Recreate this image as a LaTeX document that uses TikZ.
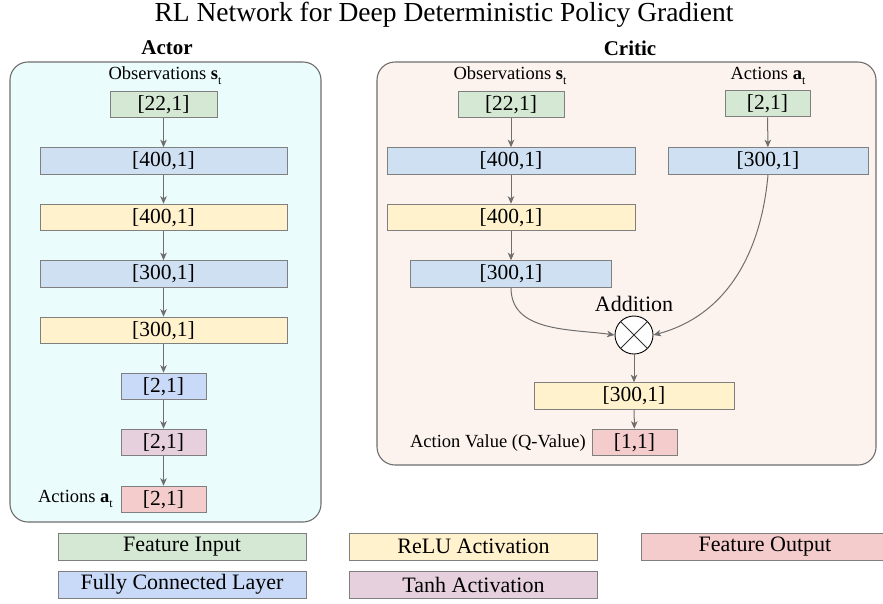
\documentclass[tikz,border=0pt]{standalone}
\usepackage{fontspec}
\setmainfont{Liberation Serif}
\usetikzlibrary{arrows.meta}
\definecolor{lineg}{HTML}{6E6E6E}
\definecolor{boxb}{HTML}{7F7F7F}
\definecolor{fgreen}{HTML}{D5E8D4}
\definecolor{fblue}{HTML}{CFE0F2}
\definecolor{fblueb}{HTML}{C9DAF8}
\definecolor{fyellow}{HTML}{FFF2CC}
\definecolor{fpink}{HTML}{E6D0DE}
\definecolor{fred}{HTML}{F4CCCC}
\definecolor{actorbg}{HTML}{EBFCFD}
\definecolor{criticbg}{HTML}{FDF3EE}
\newcommand{\fs}[1]{\fontsize{#1}{#1}\selectfont}
\newcommand{\subt}{\raisebox{-5pt}{\fs{12}t}}
\tikzset{
  layer/.style={draw=boxb, line width=1pt, inner sep=0pt, minimum height=26.5pt, font=\fs{21.5}},
  legbox/.style={draw=boxb, line width=1pt, inner sep=0pt, minimum width=248pt, minimum height=27pt, font=\fs{22}},
  panel/.style={draw=lineg, line width=1.1pt, rounded corners=18pt},
  conn/.style={draw=lineg, line width=1pt, -{Stealth[length=7.5pt,width=6.5pt,inset=2pt]}},
  lbl/.style={inner sep=0pt, font=\fs{18.5}},
}
\begin{document}
\begin{tikzpicture}[x=1pt,y=-1pt]
\clip (0,0) rectangle (883,603);
\fill[white] (0,0) rectangle (883,603);
% title
\node[inner sep=0pt, font=\fs{27.5}] (title) at (444,15) {RL Network for Deep Deterministic Policy Gradient};
% panels
\path[panel, fill=actorbg] (10,62) rectangle (321,522);
\path[panel, fill=criticbg] (377,62) rectangle (876,465);
\node[inner sep=0pt, font=\fs{21}\bfseries] (actort) at (167,48) {Actor};
\node[inner sep=0pt, font=\fs{21}\bfseries] (critict) at (630,48) {Critic};
% actor
\node[layer, fill=fgreen, minimum width=107pt] (a0) at (163.5,104.5) {[22,1]};
\node[layer, fill=fblue, minimum width=247pt] (a1) at (163.5,161) {[400,1]};
\node[layer, fill=fyellow, minimum width=247pt] (a2) at (163.5,217.5) {[400,1]};
\node[layer, fill=fblue, minimum width=247pt] (a3) at (163.5,274) {[300,1]};
\node[layer, fill=fyellow, minimum width=247pt] (a4) at (163.5,330.5) {[300,1]};
\node[layer, fill=fblueb, minimum width=85pt] (a5) at (163.5,386.5) {[2,1]};
\node[layer, fill=fpink, minimum width=85pt] (a6) at (163.5,442.5) {[2,1]};
\node[layer, fill=fred, minimum width=85pt] (a7) at (163.5,499.5) {[2,1]};
\node[lbl] (aobs) at (165,76) {Observations \textbf{s}\subt};
\node[lbl, anchor=east] (aact) at (113,499) {Actions \textbf{a}\subt};
\draw[conn] (a0) -- (a1);
\draw[conn] (a1) -- (a2);
\draw[conn] (a2) -- (a3);
\draw[conn] (a3) -- (a4);
\draw[conn] (a4) -- (a5);
\draw[conn] (a5) -- (a6);
\draw[conn] (a6) -- (a7);
% critic
\node[layer, fill=fgreen, minimum width=106pt] (c0) at (511,104.5) {[22,1]};
\node[layer, fill=fblue, minimum width=248pt] (c1) at (511,161) {[400,1]};
\node[layer, fill=fyellow, minimum width=248pt] (c2) at (511,217.5) {[400,1]};
\node[layer, fill=fblue, minimum width=201pt] (c3) at (511,274) {[300,1]};
\node[layer, fill=fgreen, minimum width=85pt] (d0) at (767.5,103.5) {[2,1]};
\node[layer, fill=fblue, minimum width=200pt] (d1) at (768,161) {[300,1]};
\node[draw=black, line width=0.9pt, fill=white, circle, minimum size=38pt, inner sep=0pt] (plus) at (634,335) {};
\draw[line width=0.8pt, draw=black!80] (plus.north east) -- (plus.south west) (plus.north west) -- (plus.south east);
\node[inner sep=0pt, font=\fs{22}] (addl) at (634,304) {Addition};
\node[layer, fill=fyellow, minimum width=200pt] (c4) at (634,396) {[300,1]};
\node[layer, fill=fred, minimum width=85pt] (c5) at (634.5,442.5) {[1,1]};
\node[lbl] (cobs) at (510,76) {Observations \textbf{s}\subt};
\node[lbl] (cact) at (768,76) {Actions \textbf{a}\subt};
\node[lbl, anchor=east] (qv) at (586,443) {Action Value (Q-Value)};
\draw[conn] (c0) -- (c1);
\draw[conn] (c1) -- (c2);
\draw[conn] (c2) -- (c3);
\draw[conn] (d0) -- (d1);
\draw[conn] (c3.south) to[out=-90, in=172] (plus.west);
\draw[conn] (d1.south) to[out=-95, in=15] (plus.east);
\draw[conn] (plus) -- (c4);
\draw[conn] (c4) -- (c5);
% legend
\node[legbox, fill=fgreen] (l1) at (182,546.5) {Feature Input};
\node[legbox, fill=fblueb] (l2) at (182,584.5) {Fully Connected Layer};
\node[legbox, fill=fyellow] (l3) at (473.5,546.5) {ReLU Activation};
\node[legbox, fill=fpink] (l4) at (473.5,584.5) {Tanh Activation};
\node[legbox, fill=fred] (l5) at (765,546.5) {Feature Output};
\end{tikzpicture}
\end{document}
